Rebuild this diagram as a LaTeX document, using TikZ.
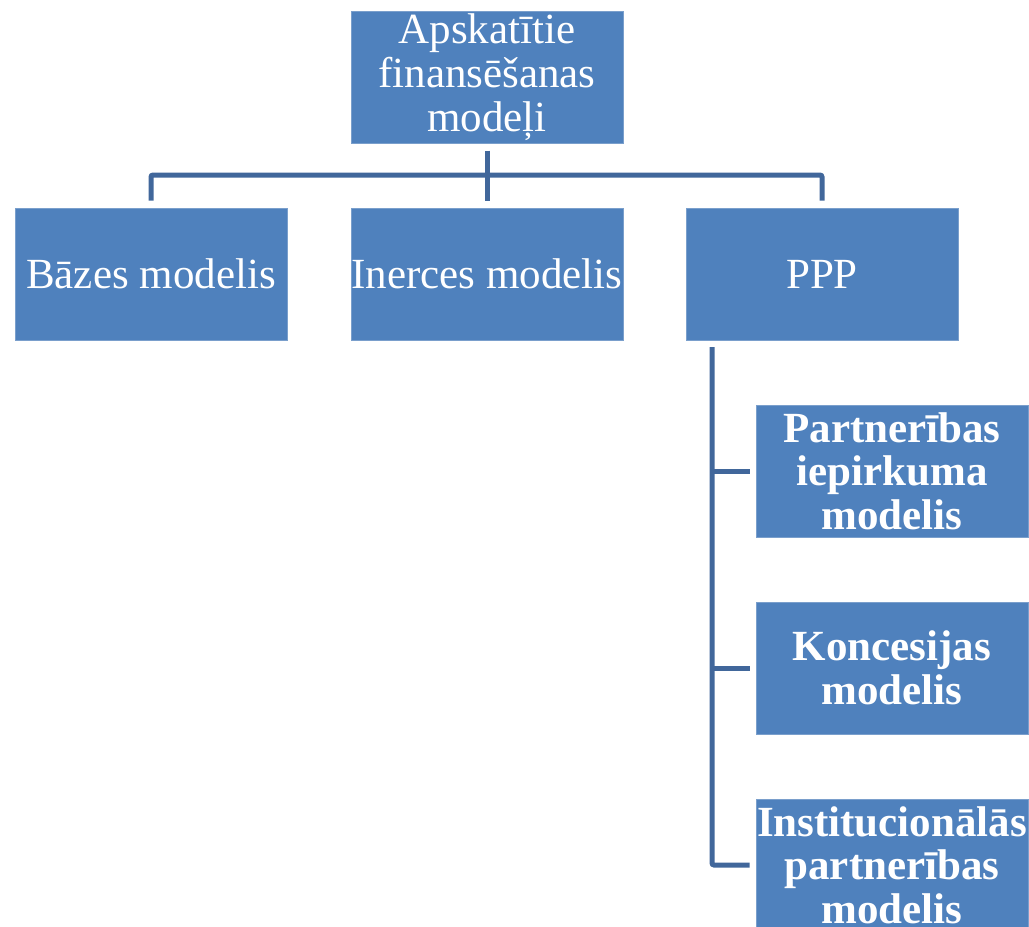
\documentclass[tikz,border=0pt]{standalone}
\usepackage{fontspec}
\setmainfont{Liberation Serif}
\definecolor{boxfill}{HTML}{4F81BD}
\definecolor{boxline}{HTML}{7A9FCC}
\definecolor{conncol}{HTML}{41679B}
\tikzset{
  x=1pt, y=-1pt,
  card/.style={fill=boxfill, draw=boxline, line width=1pt, minimum width=272pt, minimum height=132pt,
    inner sep=0pt, align=center, text=white, font=\fontsize{43}{44}\selectfont},
  boldcard/.style={card, font=\fontsize{43}{43.5}\selectfont\bfseries},
  conn/.style={draw=conncol, line width=5pt, rounded corners=2pt}
}
\begin{document}
\begin{tikzpicture}
\useasboundingbox (0,0) rectangle (1029,927);
\node[card] (top) at (487,77) {Apskatītie\\finansēšanas\\modeļi};
\node[card] (b1) at (151,274) {Bāzes modelis};
\node[card] (b2) at (487,274) {Inerces modelis};
\node[card] (b3) at (822,274) {PPP};
\node[boldcard] (s1) at (892,471) {Partnerības\\iepirkuma\\modelis};
\node[boldcard] (s2) at (892,668) {Koncesijas\\modelis};
\node[boldcard] (s3) at (892,865) {Institucionālās\\partnerības\\modelis};
\coordinate (bus) at (487,175);
\coordinate (spine) at (712,347);
\draw[conn] ([yshift=-7pt]top.south) -- (top.south |- bus);
\draw[conn] ([yshift=7pt]b1.north) -- (b1.north |- bus) -- (b3.north |- bus) -- ([yshift=7pt]b3.north);
\draw[conn] ([yshift=7pt]b2.north) -- (b2.north |- bus);
\draw[conn] (spine) |- ([xshift=-6pt]s3.west);
\draw[conn] (spine |- s1.west) -- ([xshift=-6pt]s1.west);
\draw[conn] (spine |- s2.west) -- ([xshift=-6pt]s2.west);
\end{tikzpicture}
\end{document}
